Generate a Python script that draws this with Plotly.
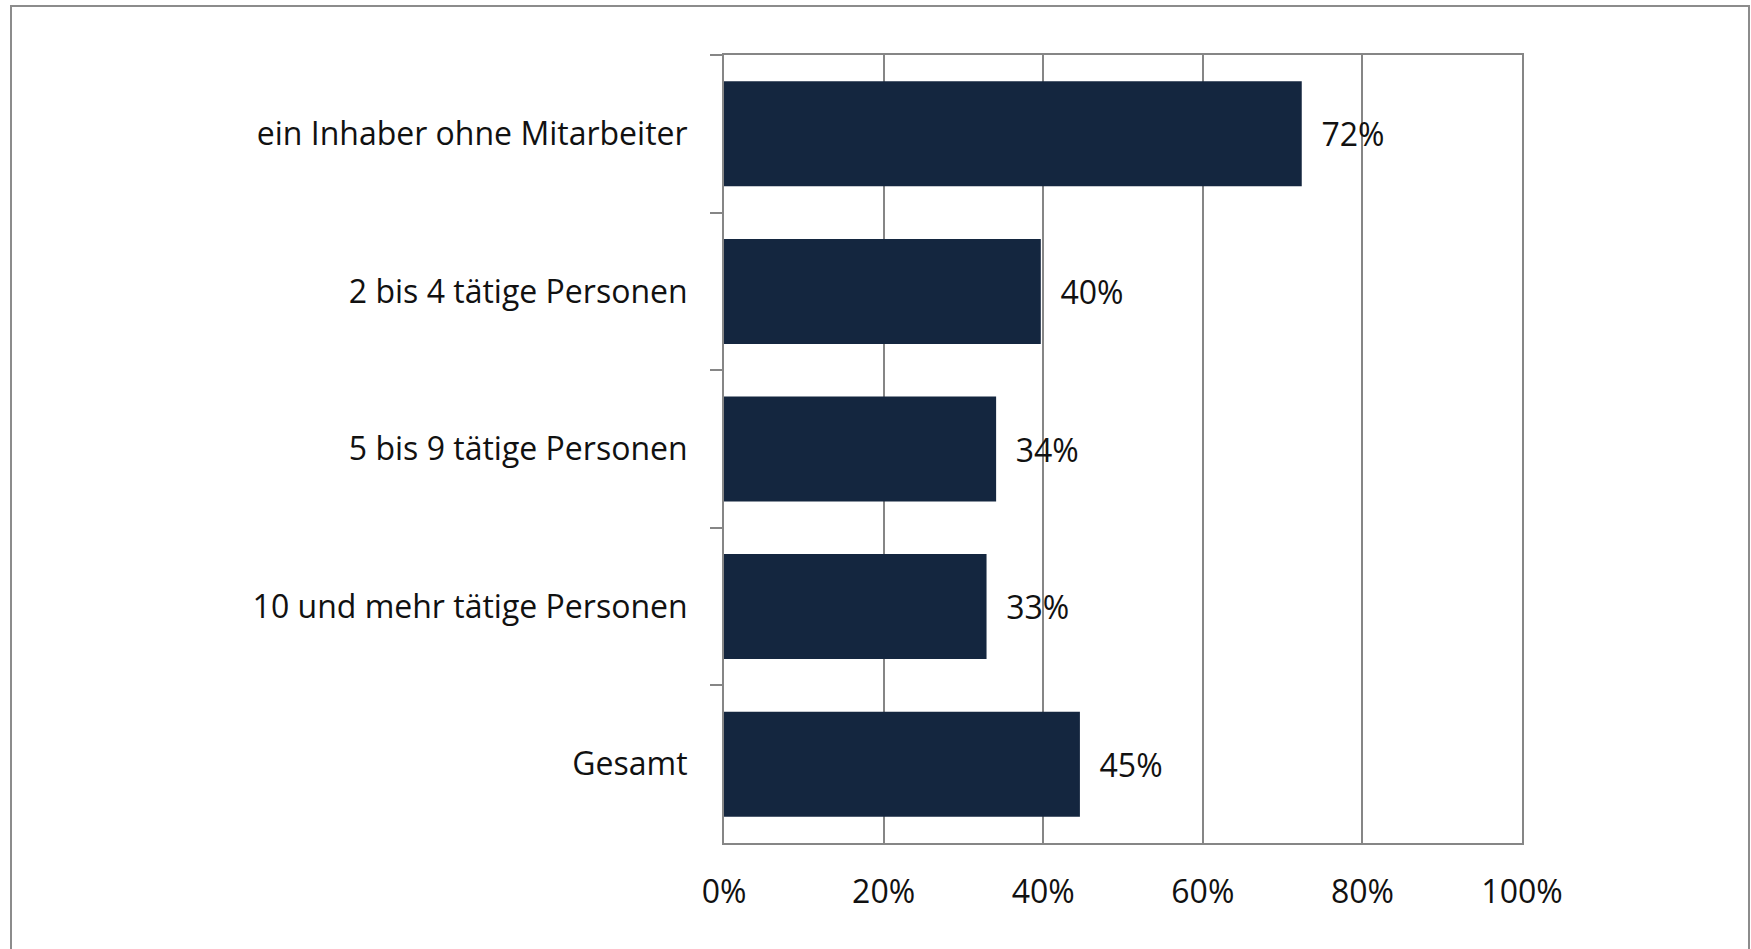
import plotly.graph_objects as go

# Anteil nach Betriebsgröße
kategorien = [
    "ein Inhaber ohne Mitarbeiter",
    "2 bis 4 tätige Personen",
    "5 bis 9 tätige Personen",
    "10 und mehr tätige Personen",
    "Gesamt",
]
anteile = [0.724, 0.397, 0.341, 0.329, 0.446]
x_ticks = [0, 0.2, 0.4, 0.6, 0.8, 1.0]
x_tick_labels = ["0%", "20%", "40%", "60%", "80%", "100%"]

W, H = 1751, 949
L, R, T, B = 724, 229, 55, 106
grey = "#868686"
font = dict(family="Open Sans", size=32, color="#111111")

fig = go.Figure(
    go.Bar(
        x=anteile,
        y=kategorien,
        orientation="h",
        marker=dict(color="#14263F", line=dict(width=0)),
        text=["\u00a0\u00a0" + f"{v:.0%}" for v in anteile],
        textposition="outside",
        textfont=font,
        cliponaxis=False,
    )
)

# outer frame around the chart (open at the bottom)
pw, ph = W - L - R, H - T - B
fig.add_shape(
    type="rect", xref="paper", yref="paper",
    x0=(11 - L) / pw, x1=(1749 - L) / pw,
    y0=(H - B - 980) / ph, y1=(H - B - 6) / ph,
    line=dict(color="#8c8c8c", width=2), layer="below",
)

fig.update_layout(
    width=W, height=H,
    margin=dict(l=L, r=R, t=T, b=B),
    paper_bgcolor="white", plot_bgcolor="white",
    showlegend=False,
    bargap=0.334,
    font=font,
    xaxis=dict(
        range=[0, 1], tickvals=x_ticks, ticktext=x_tick_labels,
        showgrid=True, gridcolor=grey, gridwidth=1.5,
        showline=True, linecolor=grey, linewidth=2, mirror=True,
        ticks="", ticklabelstandoff=20, zeroline=False,
    ),
    yaxis=dict(
        autorange="reversed", type="category",
        showline=True, linecolor=grey, linewidth=2, mirror=True,
        showgrid=False, ticks="outside", tickson="boundaries",
        ticklen=12, tickcolor=grey, tickwidth=2, ticklabelstandoff=28,
    ),
)

fig.write_html(
    "out.html",
    config={"displayModeBar": False},
    post_script="document.body.style.margin='0px';",
)
